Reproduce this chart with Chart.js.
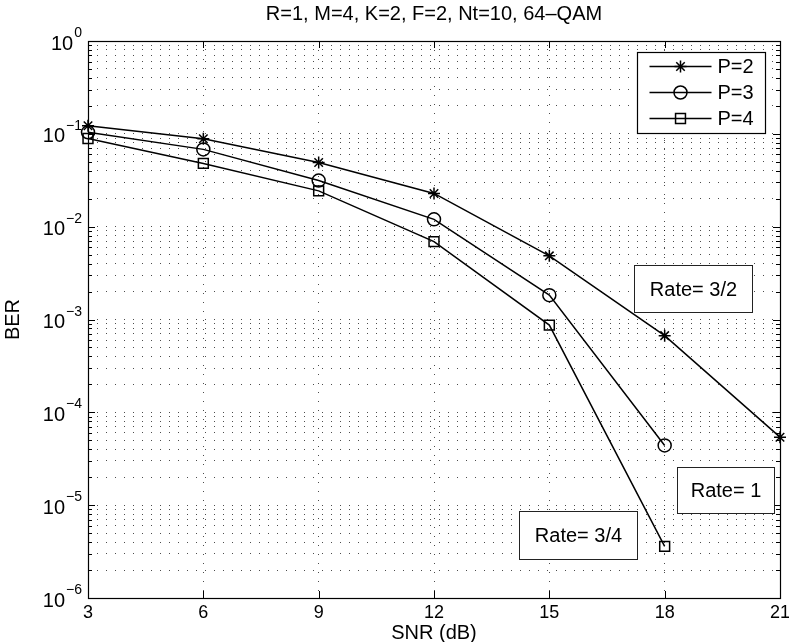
<!DOCTYPE html>
<html>
<head>
<meta charset="utf-8">
<script src="https://cdn.jsdelivr.net/npm/chart.js@4.4.0/dist/chart.umd.min.js"></script>
<style>
html, body { margin: 0; padding: 0; background: #fff; }
</style>
</head>
<body>
<canvas id="mycanvas" width="789" height="642"></canvas>
<script>
// chart values
var snr = [3, 6, 9, 12, 15, 18, 21];
var berP2 = [0.122, 0.0885, 0.0492, 0.0228, 4.85e-3, 6.7e-4, 5.4e-5];
var berP3 = [0.104, 0.068, 0.0314, 0.012, 1.83e-3, 4.4e-5];
var berP4 = [0.089, 0.048, 0.0243, 0.0069, 8.7e-4, 3.6e-6];
var seriesNames = ['P=2', 'P=3', 'P=4'];
var xTicks = [3, 6, 9, 12, 15, 18, 21];
var yDecades = [-6, -5, -4, -3, -2, -1, 0];
var titleText = 'R=1, M=4, K=2, F=2, Nt=10, 64\u2013QAM';
var xTitle = 'SNR (dB)';
var yTitle = 'BER';
// text boxes, anchored in data units (snr, ber)
var rateNotes = [
    { text: 'Rate= 3/2', x0: 17.2, x1: 20.27, yTop: 3.9e-3, yBot: 1.2e-3 },
    { text: 'Rate= 1', x0: 18.31, x1: 20.85, yTop: 2.6e-5, yBot: 8.3e-6 },
    { text: 'Rate= 3/4', x0: 14.22, x1: 17.29, yTop: 8.6e-6, yBot: 2.65e-6 }
];

var FONT = '"Liberation Sans", Arial, Helvetica, sans-serif';

function toPoints(xs, ys) {
    var out = [];
    for (var i = 0; i < ys.length; i++) out.push({ x: xs[i], y: ys[i] });
    return out;
}

var yMinor = [];
for (var e = yDecades[0]; e < yDecades[yDecades.length - 1]; e++) {
    for (var m = 1; m < 10; m++) yMinor.push(m * Math.pow(10, e));
}
yMinor.push(Math.pow(10, yDecades[yDecades.length - 1]));

var markerStyles = ['star', 'circle', 'rect'];
var markerSizes = [6, 6.5, 7];

function mkSet(i, data) {
    return {
        label: seriesNames[i],
        data: toPoints(snr, data),
        borderColor: '#000',
        borderWidth: 1.5,
        pointStyle: markerStyles[i],
        pointRadius: markerSizes[i],
        pointBorderColor: '#000',
        pointBackgroundColor: 'rgba(0,0,0,0)',
        pointBorderWidth: 1.5,
        fill: false,
        tension: 0,
        clip: false
    };
}

function drawMarker(c, style, r, x, y) {
    Chart.helpers.drawPoint(c, { pointStyle: style, radius: r, borderWidth: 1.5 }, x, y);
}

var matlabPlugin = {
    id: 'matlab',
    afterDraw: function(chart) {
        var c = chart.ctx, a = chart.chartArea;
        var xs = chart.scales.x, ys = chart.scales.y;
        c.save();
        c.strokeStyle = '#000';
        c.lineWidth = 1;
        c.setLineDash([]);

        // inward ticks on all four sides
        c.beginPath();
        xTicks.forEach(function(v) {
            var px = Math.round(xs.getPixelForValue(v)) + 0.5;
            c.moveTo(px, a.bottom); c.lineTo(px, a.bottom - 7);
            c.moveTo(px, a.top); c.lineTo(px, a.top + 7);
        });
        yMinor.forEach(function(v) {
            var py = Math.round(ys.getPixelForValue(v)) + 0.5;
            var major = Math.abs(Math.log10(v) - Math.round(Math.log10(v))) < 1e-9;
            var len = major ? 7 : 4;
            c.moveTo(a.left, py); c.lineTo(a.left + len, py);
            c.moveTo(a.right, py); c.lineTo(a.right - len, py);
        });
        c.stroke();

        // frame
        c.lineWidth = 1.2;
        c.strokeRect(Math.round(a.left) + 0.5, Math.round(a.top) + 0.5,
            Math.round(a.right - a.left), Math.round(a.bottom - a.top));

        c.fillStyle = '#000';
        // x tick labels
        c.font = '18px ' + FONT;
        c.textAlign = 'center';
        c.textBaseline = 'middle';
        xTicks.forEach(function(v) {
            c.fillText(String(v), xs.getPixelForValue(v), a.bottom + 15);
        });
        // y tick labels 10^k
        yDecades.forEach(function(k) {
            var py = ys.getPixelForValue(Math.pow(10, k));
            var ex = String(k).replace('-', '\u2212');
            c.font = '14px ' + FONT;
            var ew = c.measureText(ex).width;
            c.textAlign = 'left';
            c.textBaseline = 'alphabetic';
            var exX = a.left - 6 - ew;
            c.fillText(ex, exX, py - 4);
            c.font = '20px ' + FONT;
            c.textAlign = 'right';
            c.textBaseline = 'middle';
            c.fillText('10', exX - 1, py + 3);
        });
        // axis titles and title
        c.font = '20px ' + FONT;
        c.textAlign = 'center';
        c.textBaseline = 'middle';
        c.fillText(xTitle, (a.left + a.right) / 2, 633);
        c.fillText(titleText, (a.left + a.right) / 2, 14);
        c.save();
        c.translate(13, (a.top + a.bottom) / 2);
        c.rotate(-Math.PI / 2);
        c.fillText(yTitle, 0, 0);
        c.restore();

        // rate boxes
        rateNotes.forEach(function(n) {
            var l = Math.round(xs.getPixelForValue(n.x0)) + 0.5;
            var r = Math.round(xs.getPixelForValue(n.x1)) + 0.5;
            var t = Math.round(ys.getPixelForValue(n.yTop)) + 0.5;
            var b = Math.round(ys.getPixelForValue(n.yBot)) + 0.5;
            c.fillStyle = '#fff';
            c.fillRect(l, t, r - l, b - t);
            c.strokeStyle = '#222';
            c.lineWidth = 1;
            c.strokeRect(l, t, r - l, b - t);
            c.fillStyle = '#000';
            c.font = '20px ' + FONT;
            c.textAlign = 'center';
            c.textBaseline = 'middle';
            c.fillText(n.text, (l + r) / 2, (t + b) / 2 + 1);
        });

        // legend
        var lw = 128, lh = 81;
        var lx = Math.round(a.right - 15 - lw) + 0.5, ly = Math.round(a.top + 11) + 0.5;
        c.fillStyle = '#fff';
        c.fillRect(lx, ly, lw, lh);
        c.strokeStyle = '#000';
        c.lineWidth = 1.2;
        c.strokeRect(lx, ly, lw, lh);
        chart.data.datasets.forEach(function(ds, i) {
            var ry = ly + 14 + i * 26;
            c.strokeStyle = '#000';
            c.lineWidth = 1.5;
            c.beginPath();
            c.moveTo(lx + 12, ry); c.lineTo(lx + 74, ry);
            c.stroke();
            c.fillStyle = 'rgba(0,0,0,0)';
            drawMarker(c, ds.pointStyle, ds.pointRadius, lx + 43, ry);
            c.fillStyle = '#000';
            c.font = '20px ' + FONT;
            c.textAlign = 'left';
            c.textBaseline = 'middle';
            c.fillText(ds.label, lx + 80, ry + 1);
        });
        c.restore();
    }
};

var ctx = document.getElementById('mycanvas');
var berChart = new Chart(ctx, {
    type: 'line',
    data: {
        datasets: [mkSet(0, berP2), mkSet(1, berP3), mkSet(2, berP4)]
    },
    options: {
        responsive: false,
        animation: false,
        devicePixelRatio: 1,
        layout: { padding: { left: 0, right: 9, top: 41, bottom: 0 } },
        plugins: {
            legend: { display: false },
            title: { display: false },
            tooltip: { enabled: false }
        },
        scales: {
            x: {
                type: 'linear',
                min: 3,
                max: 21,
                afterBuildTicks: function(s) { s.ticks = xTicks.map(function(v) { return { value: v }; }); },
                afterFit: function(s) { s.height = 642 - 598; },
                ticks: { display: false },
                grid: { color: 'rgba(0,0,0,0.7)', lineWidth: 1, drawTicks: false },
                border: { display: false, dash: [1, 8] }
            },
            y: {
                type: 'logarithmic',
                min: 1e-6,
                max: 1,
                afterBuildTicks: function(s) { s.ticks = yMinor.map(function(v) { return { value: v }; }); },
                afterFit: function(s) { s.width = 88; },
                ticks: { display: false },
                grid: { color: 'rgba(0,0,0,0.7)', lineWidth: 1, drawTicks: false },
                border: { display: false, dash: [1, 8] }
            }
        }
    },
    plugins: [matlabPlugin]
});
</script>
</body>
</html>
